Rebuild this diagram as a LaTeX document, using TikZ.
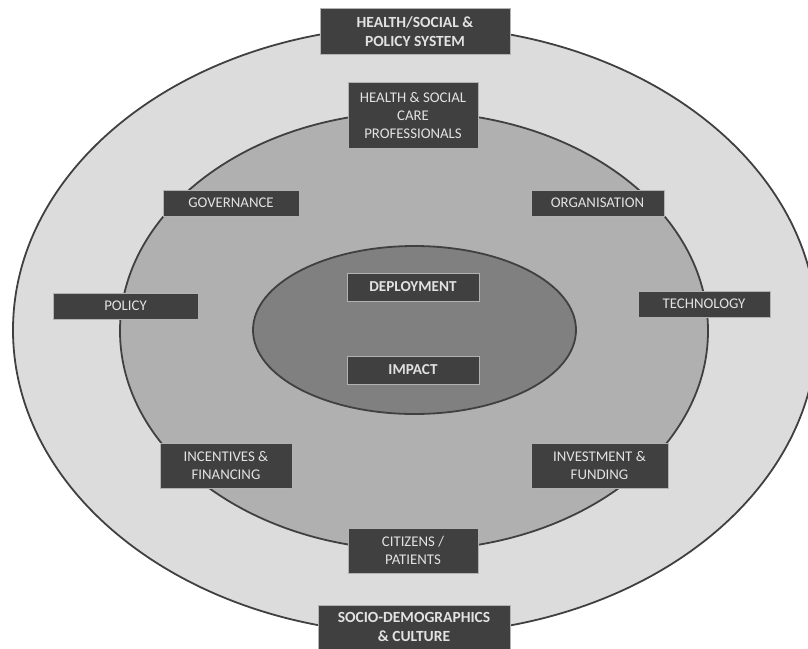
\documentclass[tikz,border=0pt]{standalone}
\usepackage{fontspec}
\setmainfont{Carlito}
\usepackage{xcolor}
\usepackage{tikz}
\usetikzlibrary{positioning}

\definecolor{outergray}{HTML}{DCDCDC}
\definecolor{midgray}{HTML}{B0B0B0}
\definecolor{innergray}{HTML}{808080}
\definecolor{boxgray}{HTML}{404040}
\definecolor{labelgray}{HTML}{E2E2E2}

\begin{document}
\begin{tikzpicture}[
  x=1pt, y=-1pt,
  ring/.style={draw=boxgray, line width=1.8pt},
  box/.style={rectangle, fill=boxgray, draw=gray!60, line width=0.6pt, text=labelgray,
    minimum width=132pt, minimum height=26pt, inner sep=2pt, align=center,
    font=\fontsize{14.8}{18}\selectfont},
  keybox/.style={box, font=\fontsize{15.2}{18}\selectfont\bfseries, minimum height=28pt},
  titlebox/.style={box, font=\fontsize{15.5}{19}\selectfont\bfseries, minimum height=46pt},
]
\useasboundingbox (0,0) rectangle (808,648);

%% --- Rings ---
\filldraw[ring, fill=outergray] (415,330) ellipse [x radius=402pt, y radius=304pt];
\filldraw[ring, fill=midgray]   (414,331) ellipse [x radius=294pt, y radius=219pt];
\filldraw[ring, fill=innergray] (414.5,330) ellipse [x radius=161.5pt, y radius=84pt];

%% --- Outer ring labels ---
\node[titlebox, minimum width=190pt] (system)  at (415,31.5) {HEALTH/SOCIAL \&\\POLICY SYSTEM};
\node[titlebox, minimum width=192pt, minimum height=44pt] (culture) at (414,627) {SOCIO-DEMOGRAPHICS\\\& CULTURE};

%% --- Middle ring labels ---
\node[box, minimum width=130pt, minimum height=66pt] (prof) at (413,115) {HEALTH \& SOCIAL\\CARE\\PROFESSIONALS};
\node[box, minimum width=136pt] (gov)    at (231,203)   {GOVERNANCE};
\node[box, minimum width=133pt] (org)    at (597.5,203) {ORGANISATION};
\node[box, minimum width=145pt] (policy) at (125.5,306) {POLICY};
\node[box, minimum width=132pt] (tech)   at (704,304)   {TECHNOLOGY};
\node[box, minimum height=45pt] (incent) at (226,465.5) {INCENTIVES \&\\FINANCING};
\node[box, minimum width=137pt, minimum height=45pt] (invest) at (599.5,465.5) {INVESTMENT \&\\FUNDING};
\node[box, minimum width=130pt, minimum height=45pt] (citizen) at (413,550.5) {CITIZENS /\\PATIENTS};

%% --- Core ---
\node[keybox] (deploy) at (413,287) {DEPLOYMENT};
\node[keybox] (impact) at (413,370) {IMPACT};

\end{tikzpicture}
\end{document}
